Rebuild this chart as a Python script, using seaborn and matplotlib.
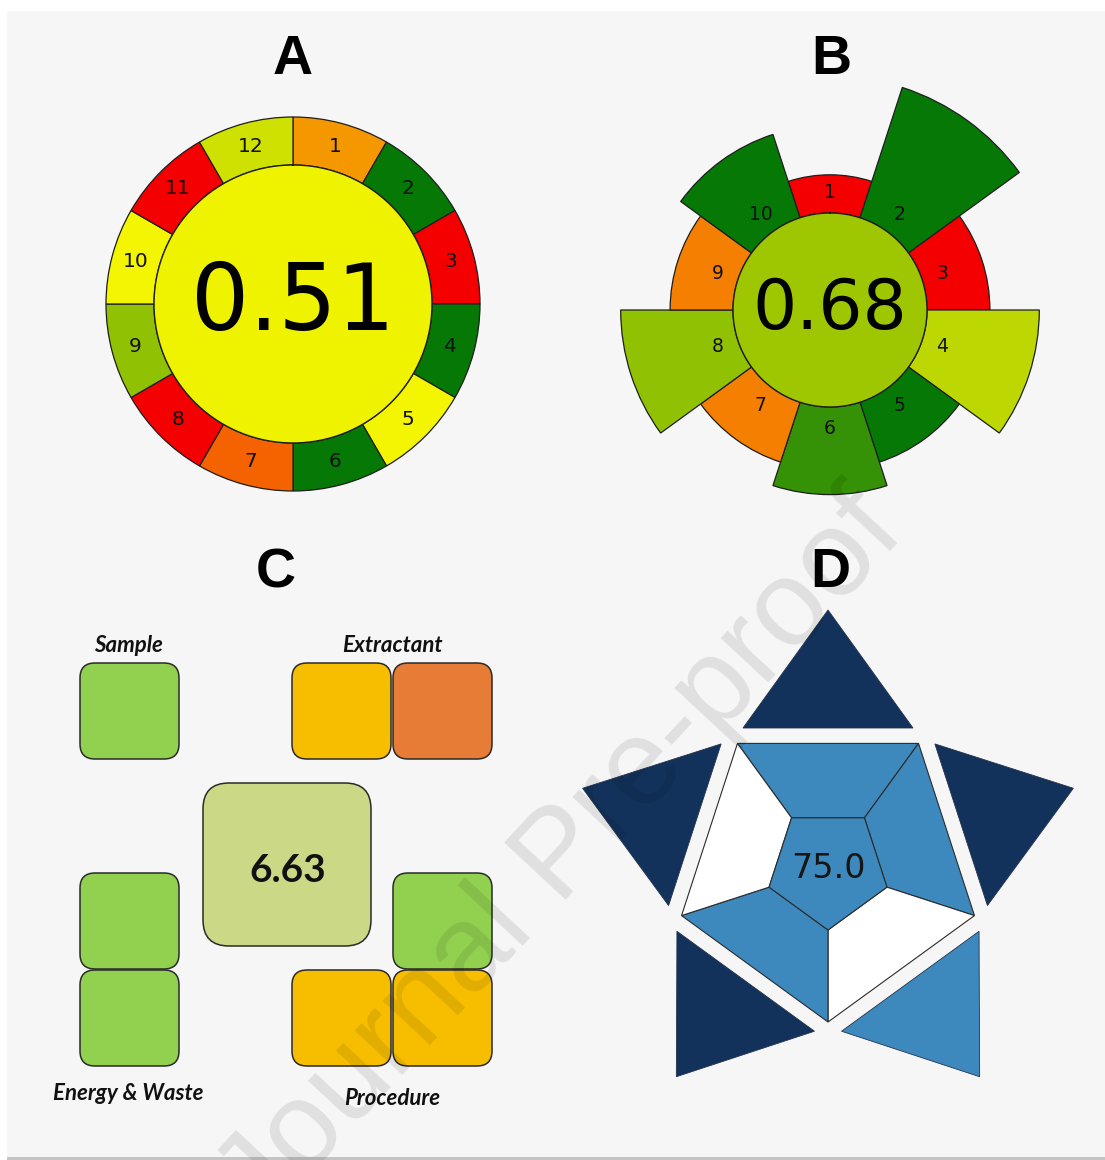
import numpy as np
import matplotlib
matplotlib.use("Agg")
import matplotlib.pyplot as plt
import seaborn as sns
from matplotlib.patches import Rectangle, FancyBboxPatch, Polygon

# ---------------- data ----------------
# A: AGREE, twelve criteria with equal weight
agree_labels = [str(i) for i in range(1, 13)]
agree_scores = [0.31, 1.00, 0.00, 1.00, 0.50, 1.00, 0.20, 0.00, 0.71, 0.50, 0.00, 0.58]
agree_total = 0.51

# B: AGREEprep, ten criteria with individual weights
prep_labels = [str(i) for i in range(1, 11)]
prep_scores = [0.00, 1.00, 0.00, 0.62, 1.00, 0.90, 0.26, 0.71, 0.26, 1.00]
prep_weights = [1, 5, 2, 4, 2, 3, 2, 4, 2, 3]
prep_total = 0.68

# C: four criteria blocks around the overall score
c_groups = ["Sample", "Extractant", "Procedure", "Energy & Waste"]
c_sample = ["green"]
c_extractant = ["yellow", "orange"]
c_procedure = ["green", "yellow", "yellow"]
c_energy = ["green", "green"]
c_total = 6.63

# D: star pictogram (levels: 0 = white, 1 = light blue, 2 = dark blue)
d_tip_levels = [2, 2, 1, 2, 2]      # outer points, clockwise from the top
d_field_levels = [1, 1, 0, 1, 0]    # pentagon fields, clockwise from the top
d_total = 75.0

# ---------------- style ----------------
sns.set_style("white")
plt.rcParams["font.family"] = ["DejaVu Sans"]
plt.rcParams["text.color"] = "black"

score_cmap = sns.blend_palette(["#f50000", "#f5f500", "#067806"], as_cmap=True)
c_palette = {"green": "#92d050", "yellow": "#f7be00", "orange": "#e67c35"}
c_center_color = "#cbd987"
d_palette = {0: "#ffffff", 1: "#3d88bd", 2: "#12325c"}
edge = "#1e1e1e"

W, H = 1105, 1160
fig = plt.figure(figsize=(W / 100, H / 100), dpi=100)
fig.patch.set_facecolor("white")

# base axes in pixel units (y downwards)
base = fig.add_axes([0, 0, 1, 1])
base.set_xlim(0, W)
base.set_ylim(H, 0)
base.axis("off")
base.add_patch(Rectangle((7, 11), W - 7, 1146, fc="#f6f6f6", ec="none", zorder=0))
base.add_patch(Rectangle((7, 1157), W - 7, 3, fc="#c4c4c4", ec="none", zorder=0))

title_kw = dict(fontsize=40, fontweight="bold", family="Liberation Sans",
                ha="center", va="baseline", color="black")
base.text(293, 74, "A", **title_kw)
base.text(831, 74, "B", **title_kw)
base.text(276, 587, "C", **title_kw)
base.text(830, 587, "D", **title_kw)


def polar_axes(cx, cy, rmax):
    ax = fig.add_axes([(cx - rmax) / W, 1 - (cy + rmax) / H, 2 * rmax / W, 2 * rmax / H],
                      projection="polar")
    ax.set_theta_zero_location("N")
    ax.set_theta_direction(-1)
    ax.set_ylim(0, rmax)
    ax.axis("off")
    return ax


def center_disk(ax, r, color):
    t = np.linspace(0, 2 * np.pi, 400)
    ax.fill(t, np.full_like(t, r), color=color, zorder=3, lw=0)
    ax.plot(t, np.full_like(t, r), color=edge, lw=1.0, zorder=4)


# ---------------- A ----------------
axA = polar_axes(293, 304, 195)
nA = len(agree_scores)
thA = np.deg2rad((np.arange(nA) + 0.5) * 360 / nA)
rA_in, rA_out = 139, 187
axA.bar(thA, rA_out - rA_in, width=2 * np.pi / nA, bottom=rA_in,
        color=[score_cmap(s) for s in agree_scores], edgecolor=edge, linewidth=0.9, zorder=2)
for th, lab in zip(thA, agree_labels):
    axA.text(th, 163, lab, ha="center", va="center", fontsize=14.5, color="#111111", zorder=5)
center_disk(axA, rA_in, score_cmap(agree_total))
axA.text(0, 0, f"{agree_total:.2f}", ha="center", va="center", fontsize=66,
         color="black", zorder=6)

# ---------------- B ----------------
axB = polar_axes(830, 310, 242)
nB = len(prep_scores)
thB = np.deg2rad(np.arange(nB) * 360 / nB)
rB_in, r_base, r_step = 97, 110.5, 24.7
rB_out = r_base + r_step * np.asarray(prep_weights)
axB.bar(thB, rB_out - rB_in, width=2 * np.pi / nB, bottom=rB_in,
        color=[score_cmap(s) for s in prep_scores], edgecolor=edge, linewidth=0.9, zorder=2)
for th, lab in zip(thB, prep_labels):
    axB.text(th, 118, lab, ha="center", va="center", fontsize=13.5, color="#111111", zorder=5)
center_disk(axB, rB_in, score_cmap(prep_total))
axB.text(0, 0, f"{prep_total:.2f}", ha="center", va="center", fontsize=50,
         color="black", zorder=6)

# ---------------- C ----------------
col_x = [80, 292, 393]
row_y = [663, 873, 970]
cell_w, cell_h = 99, 96
c_cells = {
    "Sample": (c_sample, [(0, 0)]),
    "Extractant": (c_extractant, [(1, 0), (2, 0)]),
    "Procedure": (c_procedure, [(2, 1), (1, 2), (2, 2)]),
    "Energy & Waste": (c_energy, [(0, 1), (0, 2)]),
}
for g in c_groups:
    levels, cells = c_cells[g]
    for lvl, (ci, ri) in zip(levels, cells):
        base.add_patch(FancyBboxPatch((col_x[ci], row_y[ri]), cell_w, cell_h,
                                      boxstyle="round,pad=0,rounding_size=15",
                                      fc=c_palette[lvl], ec="#2a2a2a", lw=1.1, zorder=2))
base.add_patch(FancyBboxPatch((203, 783), 168, 163, boxstyle="round,pad=0,rounding_size=26",
                              fc=c_center_color, ec="#2a2a2a", lw=1.1, zorder=2))
base.text(288, 882, f"{c_total:.2f}", ha="center", va="baseline", fontsize=28,
          fontweight="bold", family="Lato", color="#111111", zorder=3)
lab_kw = dict(ha="center", va="baseline", fontsize=16, fontweight="bold",
              style="italic", family="Lato", color="#111111")
base.text(128, 652, "Sample", **lab_kw)
base.text(392, 652, "Extractant", **lab_kw)
base.text(392, 1105, "Procedure", **lab_kw)
base.text(128, 1100, "Energy & Waste", **lab_kw)

# ---------------- D ----------------
dcx, dcy = 828, 868
R_out, R_in = 154, 62
tip_base, tip_apex, tip_half = 140, 258, 85


def pix(x, y):
    return (dcx + x, dcy - y)


def polar_pt(r, ang):
    a = np.deg2rad(ang)
    return pix(r * np.cos(a), r * np.sin(a))


normals = [90 - 72 * j for j in range(5)]
for phi, lvl in zip(normals, d_field_levels):
    verts = [polar_pt(R_out, phi + 36), polar_pt(R_out, phi - 36),
             polar_pt(R_in, phi - 36), polar_pt(R_in, phi + 36)]
    base.add_patch(Polygon(verts, closed=True, fc=d_palette[lvl], ec="#2b2b2b", lw=0.8, zorder=2))
base.add_patch(Polygon([polar_pt(R_in, phi + 36) for phi in normals], closed=True,
                       fc=d_palette[1], ec="#2b2b2b", lw=0.8, zorder=2))
for phi, lvl in zip(normals, d_tip_levels):
    a = np.deg2rad(phi)
    n = np.array([np.cos(a), np.sin(a)])
    t = np.array([-np.sin(a), np.cos(a)])
    pts = [tip_base * n + tip_half * t, tip_apex * n, tip_base * n - tip_half * t]
    base.add_patch(Polygon([pix(*p) for p in pts], closed=True, fc=d_palette[lvl],
                           ec="#24324a", lw=0.6, zorder=2))
base.text(828, 878, f"{d_total:.1f}", ha="center", va="baseline", fontsize=24,
          color="#151515", zorder=3)

# ---------------- watermark ----------------
fig.text(585, 880, "Journal Pre-proof", transform=base.transData, rotation=47,
         rotation_mode="anchor", ha="center", va="baseline", fontsize=88,
         family="Liberation Sans", color=(0, 0, 0, 0.09), zorder=10)

fig.savefig("out.png", dpi=100, facecolor=fig.get_facecolor())
